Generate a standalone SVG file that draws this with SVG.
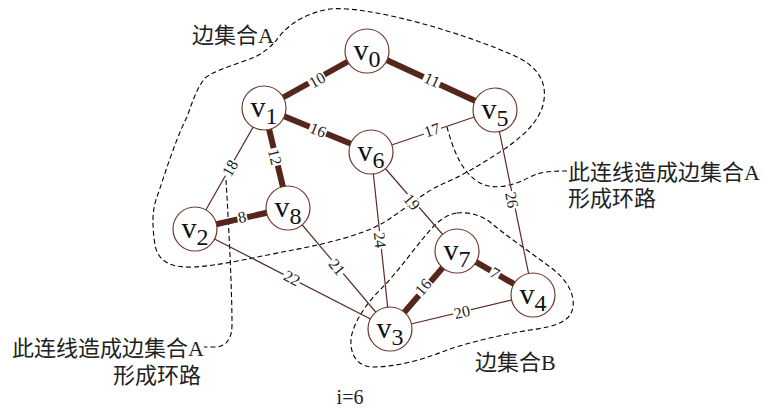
<svg xmlns="http://www.w3.org/2000/svg" width="764" height="409" viewBox="0 0 764 409">
<style>
.e{stroke:#5a2c22;stroke-width:1.2;fill:none}
.t{stroke:#55261c;stroke-width:6;fill:none}
.d{stroke:#000;stroke-width:1.1;stroke-dasharray:5,3;fill:none}
.n circle{fill:#fff;stroke:#6b3a2e;stroke-width:1.2}
.nl{font-family:"Liberation Serif",serif;font-size:30px;fill:#111;text-anchor:middle}
.nl tspan{font-size:24px}
.lb rect{fill:#fff}
.lb text{font-family:"Liberation Serif",serif;font-size:16px;fill:#222;text-anchor:middle}
.cj{font-family:"Liberation Serif","Noto Sans CJK SC",serif;font-size:22px;fill:#222}
</style>
<g id="regions">
<path class="d" d="M275,42 C285,28 300,14 330,9 C370,5 470,35 517,57 C540,68 548,85 543,105 C538,122 525,135 503,150 C480,165 460,177 440,185 C420,195 400,213 383,223 C360,236 320,245 293,250 C260,256 220,266 193,267 C172,268 158,262 155,245 C152,225 152,210 157,197 C163,180 175,140 187,117 C193,100 197,88 205,78 C215,70 240,63 255,57 C265,52 270,47 275,42 Z"/>
<path class="d" d="M457,213 C470,212 480,215 490,222 C505,235 530,252 550,267 C565,278 575,292 573,307 C571,320 560,326 530,330 C505,334 470,342 447,350 C430,357 400,367 373,367 C358,367 350,355 351,340 C352,325 365,305 380,290 C400,270 420,240 435,225 C442,218 450,214 457,213 Z"/>
<path class="d" d="M447,127 C452,145 460,172 480,183 C495,191 515,185 530,177 C540,172 548,171 567,171"/>
<path class="d" d="M226,180 C229,230 232,290 232,325 C232,340 225,347 215,347 L204,347"/>
</g>
<g id="connectors">
<line class="e" x1="264" y1="108" x2="195" y2="229"/>
<line class="e" x1="371" y1="152" x2="495" y2="110"/>
<line class="e" x1="495" y1="110" x2="533" y2="295"/>
<line class="e" x1="371" y1="152" x2="457" y2="251"/>
<line class="e" x1="371" y1="152" x2="390" y2="329"/>
<line class="e" x1="288" y1="208" x2="390" y2="329"/>
<line class="e" x1="195" y1="229" x2="390" y2="329"/>
<line class="e" x1="390" y1="329" x2="533" y2="295"/>
<line class="t" x1="264" y1="108" x2="367" y2="51"/>
<line class="t" x1="367" y1="51" x2="495" y2="110"/>
<line class="t" x1="264" y1="108" x2="371" y2="152"/>
<line class="t" x1="264" y1="108" x2="288" y2="208"/>
<line class="t" x1="195" y1="229" x2="288" y2="208"/>
<line class="t" x1="457" y1="251" x2="390" y2="329"/>
<line class="t" x1="457" y1="251" x2="533" y2="295"/>
<g class="lb">
<g transform="translate(317,80) rotate(-29)"><rect x="-9" y="-6" width="18" height="12"/><text y="5.5">10</text></g>
<g transform="translate(432,80) rotate(24.7)"><rect x="-9" y="-6" width="18" height="12"/><text y="5.5">11</text></g>
<g transform="translate(318,130) rotate(22)"><rect x="-9" y="-6" width="18" height="12"/><text y="5.5">16</text></g>
<g transform="translate(275,157) rotate(76.5)"><rect x="-9" y="-6" width="18" height="12"/><text y="5.5">12</text></g>
<g transform="translate(230,168) rotate(-60)"><rect x="-9" y="-6" width="18" height="12"/><text y="5.5">18</text></g>
<g transform="translate(432,130) rotate(-18.7)"><rect x="-9" y="-6" width="18" height="12"/><text y="5.5">17</text></g>
<g transform="translate(242,217) rotate(-12.7)"><rect x="-5" y="-6" width="10" height="12"/><text y="5.5">8</text></g>
<g transform="translate(412,202) rotate(49)"><rect x="-9" y="-6" width="18" height="12"/><text y="5.5">19</text></g>
<g transform="translate(380,240) rotate(83.9)"><rect x="-9" y="-6" width="18" height="12"/><text y="5.5">24</text></g>
<g transform="translate(337,267) rotate(49.9)"><rect x="-9" y="-6" width="18" height="12"/><text y="5.5">21</text></g>
<g transform="translate(292,278) rotate(27)"><rect x="-9" y="-6" width="18" height="12"/><text y="5.5">22</text></g>
<g transform="translate(423,287) rotate(-49.3)"><rect x="-9" y="-6" width="18" height="12"/><text y="5.5">16</text></g>
<g transform="translate(495,273) rotate(30)"><rect x="-5" y="-6" width="10" height="12"/><text y="5.5">7</text></g>
<g transform="translate(462,312) rotate(-13.4)"><rect x="-9" y="-6" width="18" height="12"/><text y="5.5">20</text></g>
<g transform="translate(512,200) rotate(78.4)"><rect x="-9" y="-6" width="18" height="12"/><text y="5.5">26</text></g>
</g>
</g>
<g id="v0" class="n"><circle cx="367" cy="51" r="22"/><text class="nl" x="367" y="60">v<tspan dy="7">0</tspan></text></g>
<g id="v1" class="n"><circle cx="264" cy="108" r="22"/><text class="nl" x="264" y="117">v<tspan dy="7">1</tspan></text></g>
<g id="v5" class="n"><circle cx="495" cy="110" r="22"/><text class="nl" x="495" y="119">v<tspan dy="7">5</tspan></text></g>
<g id="v6" class="n"><circle cx="371" cy="152" r="22"/><text class="nl" x="371" y="161">v<tspan dy="7">6</tspan></text></g>
<g id="v2" class="n"><circle cx="195" cy="229" r="22"/><text class="nl" x="195" y="238">v<tspan dy="7">2</tspan></text></g>
<g id="v8" class="n"><circle cx="288" cy="208" r="22"/><text class="nl" x="288" y="217">v<tspan dy="7">8</tspan></text></g>
<g id="v7" class="n"><circle cx="457" cy="251" r="22"/><text class="nl" x="457" y="260">v<tspan dy="7">7</tspan></text></g>
<g id="v4" class="n"><circle cx="533" cy="295" r="22"/><text class="nl" x="533" y="304">v<tspan dy="7">4</tspan></text></g>
<g id="v3" class="n"><circle cx="390" cy="329" r="22"/><text class="nl" x="390" y="338">v<tspan dy="7">3</tspan></text></g>
<g id="texts">
<text class="cj" x="192" y="43">边集合A</text>
<text class="cj" x="475" y="370">边集合B</text>
<text class="cj" x="568" y="180">此连线造成边集合A</text>
<text class="cj" x="568" y="206">形成环路</text>
<text class="cj" x="204" y="356" text-anchor="end">此连线造成边集合A</text>
<text class="cj" x="201" y="383" text-anchor="end">形成环路</text>
<text x="350" y="404" text-anchor="middle" style="font-family:'Liberation Serif',serif;font-size:20px;fill:#222">i=6</text>
</g>
</svg>
